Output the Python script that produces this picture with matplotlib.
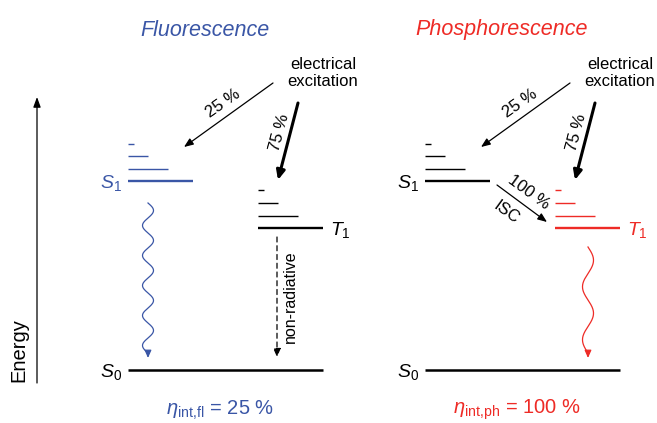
import numpy as np
import matplotlib
matplotlib.use("Agg")
import matplotlib.pyplot as plt

plt.rcParams['font.family'] = ['Liberation Sans', 'DejaVu Sans']
plt.rcParams['mathtext.fontset'] = 'custom'
plt.rcParams['mathtext.rm'] = 'Liberation Sans'
plt.rcParams['mathtext.it'] = 'Liberation Sans:italic'

# panel data (pixel coordinates of the schematic, y grows downwards)
titles = ['Fluorescence', 'Phosphorescence']
efficiency = ['$\\eta_{\\mathrm{int,\\!fl}}$ = 25 %',
              '$\\eta_{\\mathrm{int,\\!ph}}$ = 100 %']
panel_offset = [0, 297]
s1_levels = [181, 169, 156, 144]      # S1 and its vibrational levels
s1_widths = [65, 40, 20, 6]
t1_levels = [228, 216, 203, 190]      # T1 and its vibrational levels
t1_widths = [65, 40, 20, 6]
s0_level = 370
share_s1 = '25 %'
share_t1 = '75 %'

blue = '#3a56a6'
red = '#ee2b26'
black = '#000000'

fig = plt.figure(figsize=(6.57, 4.23), dpi=100)
ax = fig.add_axes([0, 0, 1, 1])
ax.set_xlim(0, 657)
ax.set_ylim(423, 0)
ax.axis('off')


def arrow(x0, y0, x1, y1, color='k', lw=0.9, ls='-', hw=0.25, hl=0.5):
    ax.annotate('', xy=(x1, y1), xytext=(x0, y0),
                arrowprops=dict(arrowstyle='-|>,head_width=%g,head_length=%g' % (hw, hl),
                                color=color, lw=lw, ls=ls, shrinkA=0, shrinkB=0))


def wavy(x0, y0, y1, color, periods):
    yy = np.linspace(y0, y1 - 5, 300)
    xx = x0 + 5.5 * np.sin(2 * np.pi * periods * (yy - y0) / (y1 - 5 - y0))
    ax.plot(xx, yy, color=color, lw=0.9)
    arrow(x0, y1 - 6, x0, y1, color=color, lw=0.9, hw=0.2, hl=0.45)


# energy axis
arrow(37, 383, 37, 97, lw=0.9, hw=0.22, hl=0.6)
ax.text(19, 350, 'Energy', rotation=90, ha='center', va='center', fontsize=14.5)

for i, dx in enumerate(panel_offset):
    s1_col = blue if i == 0 else black
    t1_col = black if i == 0 else red
    title_col = blue if i == 0 else red
    xs = 128 + dx
    xt = 258 + dx

    ax.text(205 + dx, 30, titles[i], color=title_col, fontsize=15.5, style='italic',
            ha='center', va='center')

    for j, (y, w) in enumerate(zip(s1_levels, s1_widths)):
        ax.plot([xs, xs + w], [y, y], color=s1_col, lw=1.7 if j == 0 else 1.0,
                solid_capstyle='butt')
    for j, (y, w) in enumerate(zip(t1_levels, t1_widths)):
        ax.plot([xt, xt + w], [y, y], color=t1_col, lw=1.7 if j == 0 else 1.0,
                solid_capstyle='butt')
    ax.plot([xs, 323 + dx], [s0_level, s0_level], color=black, lw=1.8,
            solid_capstyle='butt')

    ax.text(122 + dx, s1_levels[0] + 2, '$S_1$', color=s1_col, fontsize=14,
            ha='right', va='center')
    ax.text(330 + dx, t1_levels[0] + 2, '$T_1$', color=t1_col, fontsize=14,
            ha='left', va='center')
    ax.text(122 + dx, s0_level + 2, '$S_0$', color=black, fontsize=14,
            ha='right', va='center')

    ax.text(323 + dx, 73, 'electrical\nexcitation', ha='center', va='center',
            fontsize=12, linespacing=1.2)

    # excitation arrows
    arrow(273 + dx, 83, 184 + dx, 147, lw=0.9, hw=0.22, hl=0.55)
    ax.text(223 + dx, 103, share_s1, rotation=35, ha='center', va='center', fontsize=12)
    arrow(298 + dx, 103, 278 + dx, 180, lw=2.2, hw=0.25, hl=0.55)
    ax.text(280 + dx, 132, share_t1, rotation=75, ha='center', va='center', fontsize=12)

    ax.text(220 + dx, 410, efficiency[i], color=title_col, fontsize=14.5,
            ha='center', va='center')

# fluorescence decay and non-radiative triplet loss
wavy(148, 203, 358, blue, 5)
arrow(277, 237, 277, 357, lw=0.9, ls=(0, (4, 3)), hw=0.22, hl=0.5)
ax.text(290, 297, 'non-radiative', rotation=90, ha='center', va='center', fontsize=11.5)

# phosphorescence: ISC and radiative decay
arrow(497, 185, 547, 222, lw=0.9, hw=0.22, hl=0.55)
ax.text(529, 192, '100 %', rotation=-36, ha='center', va='center', fontsize=12)
ax.text(506, 212, 'ISC', rotation=-36, ha='center', va='center', fontsize=12)
wavy(588, 247, 358, red, 2)

fig.savefig('out.png', dpi=100)
